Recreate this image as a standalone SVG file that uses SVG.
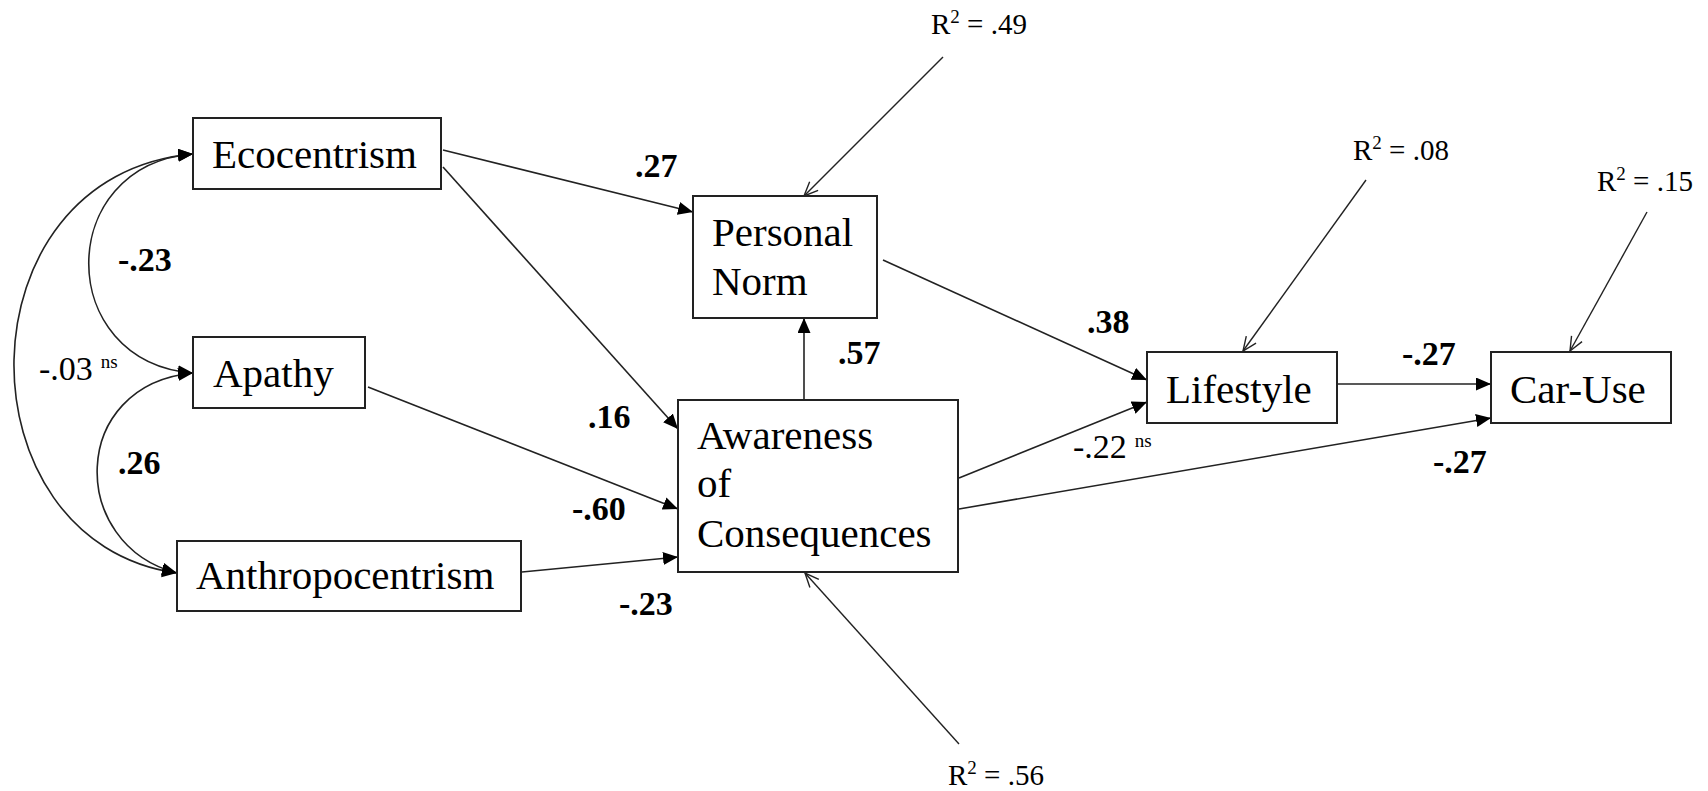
<svg xmlns="http://www.w3.org/2000/svg" width="1708" height="791" viewBox="0 0 1708 791">
<style>
.box{fill:#fff;stroke:#222;stroke-width:2}
.lbl{font-family:"Liberation Serif","Times New Roman",serif;font-size:41px;fill:#000}
.w{font-family:"Liberation Serif","Times New Roman",serif;font-size:34px;font-weight:bold;fill:#000}
.n{font-family:"Liberation Serif","Times New Roman",serif;font-size:34px;fill:#000}
.r{font-family:"Liberation Serif","Times New Roman",serif;font-size:29px;fill:#000}
.sup{font-size:19px}
.c{fill:none;stroke:#222;stroke-width:1.6}
.e{fill:none;stroke:#222;stroke-width:1.4}
</style>
<defs>
<marker id="ah" markerUnits="userSpaceOnUse" markerWidth="16" markerHeight="14" refX="15" refY="6.5" orient="auto">
<path d="M0,0 L15,6.5 L0,13 z" fill="#000"/>
</marker>
<marker id="ahs" markerUnits="userSpaceOnUse" markerWidth="16" markerHeight="14" refX="15" refY="6.5" orient="auto-start-reverse">
<path d="M0,0 L15,6.5 L0,13 z" fill="#000"/>
</marker>
<marker id="open" markerUnits="userSpaceOnUse" markerWidth="18" markerHeight="16" refX="15" refY="7" orient="auto">
<path d="M1,1 L15,7 L1,13" fill="none" stroke="#222" stroke-width="1.4"/>
</marker>
</defs>

<g id="connectors">
<path class="c" d="M193,154 C54,165 54,362 193,373" marker-start="url(#ahs)" marker-end="url(#ah)"/>
<path class="c" d="M193,154 C-43,175 -43,542 177,573" marker-start="url(#ahs)" marker-end="url(#ah)"/>
<path class="c" d="M193,373 C68,385 68,545 177,573" marker-start="url(#ahs)" marker-end="url(#ah)"/>
<line class="c" x1="443" y1="150" x2="693" y2="212" marker-end="url(#ah)"/>
<line class="c" x1="443" y1="167" x2="678" y2="429" marker-end="url(#ah)"/>
<line class="c" x1="368" y1="387" x2="678" y2="509" marker-end="url(#ah)"/>
<line class="c" x1="522" y1="572" x2="678" y2="557" marker-end="url(#ah)"/>
<line class="c" x1="804" y1="400" x2="804" y2="318" marker-end="url(#ah)"/>
<line class="c" x1="883" y1="260" x2="1147" y2="380" marker-end="url(#ah)"/>
<line class="c" x1="959" y1="478" x2="1147" y2="402" marker-end="url(#ah)"/>
<line class="c" x1="959" y1="509" x2="1491" y2="418" marker-end="url(#ah)"/>
<line class="c" x1="1337" y1="384" x2="1491" y2="384" marker-end="url(#ah)"/>
<line class="e" x1="943" y1="57" x2="804" y2="196" marker-end="url(#open)"/>
<line class="e" x1="959" y1="744" x2="805" y2="573" marker-end="url(#open)"/>
<line class="e" x1="1366" y1="180" x2="1243" y2="351" marker-end="url(#open)"/>
<line class="e" x1="1647" y1="212" x2="1570" y2="351" marker-end="url(#open)"/>
</g>

<g id="node-ecocentrism">
<rect class="box" x="193" y="118" width="248" height="71"/>
<text class="lbl" x="212" y="168">Ecocentrism</text>
</g>
<g id="node-apathy">
<rect class="box" x="193" y="337" width="172" height="71"/>
<text class="lbl" x="213" y="387">Apathy</text>
</g>
<g id="node-anthropocentrism">
<rect class="box" x="177" y="541" width="344" height="70"/>
<text class="lbl" x="196" y="589">Anthropocentrism</text>
</g>
<g id="node-personal-norm">
<rect class="box" x="693" y="196" width="184" height="122"/>
<text class="lbl" x="712" y="246">Personal</text>
<text class="lbl" x="712" y="295">Norm</text>
</g>
<g id="node-awareness">
<rect class="box" x="678" y="400" width="280" height="172"/>
<text class="lbl" x="697" y="449">Awareness</text>
<text class="lbl" x="697" y="497">of</text>
<text class="lbl" x="697" y="547">Consequences</text>
</g>
<g id="node-lifestyle">
<rect class="box" x="1147" y="352" width="190" height="71"/>
<text class="lbl" x="1166" y="403">Lifestyle</text>
</g>
<g id="node-car-use">
<rect class="box" x="1491" y="352" width="180" height="71"/>
<text class="lbl" x="1510" y="403">Car-Use</text>
</g>

<g id="labels">
<text class="w" x="118" y="271">-.23</text>
<text class="n" x="39" y="380">-.03<tspan class="sup" dx="8" dy="-12">ns</tspan></text>
<text class="w" x="118" y="474">.26</text>
<text class="w" x="635" y="177">.27</text>
<text class="w" x="588" y="428">.16</text>
<text class="w" x="572" y="520">-.60</text>
<text class="w" x="619" y="615">-.23</text>
<text class="w" x="838" y="364">.57</text>
<text class="w" x="1087" y="333">.38</text>
<text class="n" x="1073" y="458">-.22<tspan class="sup" dx="8" dy="-11">ns</tspan></text>
<text class="w" x="1402" y="365">-.27</text>
<text class="w" x="1433" y="473">-.27</text>
<text class="r" x="931" y="34">R<tspan class="sup" dy="-11">2</tspan><tspan dy="11"> = .49</tspan></text>
<text class="r" x="948" y="785">R<tspan class="sup" dy="-11">2</tspan><tspan dy="11"> = .56</tspan></text>
<text class="r" x="1353" y="160">R<tspan class="sup" dy="-11">2</tspan><tspan dy="11"> = .08</tspan></text>
<text class="r" x="1597" y="191">R<tspan class="sup" dy="-11">2</tspan><tspan dy="11"> = .15</tspan></text>
</g>
</svg>
